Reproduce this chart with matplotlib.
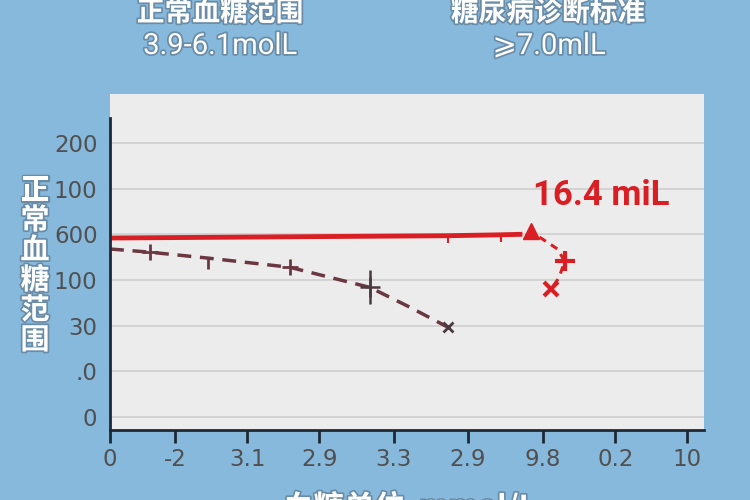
import matplotlib
matplotlib.use("Agg")
import matplotlib.pyplot as plt
import matplotlib.patheffects as pe

# axis ticks as they appear in the picture
x_ticks = [0, 0.9, 1.9, 2.9, 3.93, 4.96, 6.0, 7.0, 8.0]
x_labels = ["0", "-2", "3.1", "2.9", "3.3", "2.9", "9.8", "0.2", "10"]
y_ticks = [0, 1, 2, 3, 4, 5, 6]
y_labels = ["0", ".0", "30", "100", "600", "100", "200"]

# red solid series and its dashed tail
red_x = [0, 4.68, 5.42, 5.68]
red_y = [3.92, 3.97, 3.99, 4.0]
arrow_x = [5.83]
arrow_y = [4.07]
tail_x = [5.95, 6.2, 6.3, 6.22, 6.11]
tail_y = [3.94, 3.68, 3.41, 3.05, 2.80]

# dark dashed series
dark_x = [0, 0.55, 1.36, 2.49, 3.6, 4.15, 4.68]
dark_y = [3.68, 3.61, 3.48, 3.28, 2.84, 2.41, 1.97]

bg = "#86b9dc"
red = "#d91f24"
dark = "#6b3841"
txt = "#505050"
cjk = ["Noto Sans CJK SC", "DejaVu Sans"]
outline = [pe.withStroke(linewidth=2.5, foreground="#6a8ca6")]

fig = plt.figure(figsize=(7.5, 5), dpi=100, facecolor=bg)
ax = fig.add_axes([110 / 750, 1 - 430 / 500, 594 / 750, 336 / 500])
ax.set_facecolor("#ececec")
ax.set_xlim(0, 8.23)
ax.set_ylim(-0.28, 7.07)

for s in ["top", "right"]:
    ax.spines[s].set_visible(False)
ax.spines["left"].set_bounds(-0.28, 6.54)
ax.spines["left"].set_color("#1e2935")
ax.spines["bottom"].set_color("#1e2935")
ax.spines["left"].set_linewidth(2)
ax.spines["bottom"].set_linewidth(2)

ax.set_yticks(y_ticks)
ax.set_yticklabels(y_labels)
ax.set_yticks([y_ticks[1], y_ticks[3], y_ticks[5]], minor=True)
ax.tick_params(axis="y", which="major", length=0, pad=9, labelsize=16.5, labelcolor=txt)
ax.tick_params(axis="y", which="minor", length=6, width=2, color="#1e2935")
ax.set_xticks(x_ticks)
ax.set_xticklabels(x_labels)
ax.tick_params(axis="x", length=9, width=2, color="#1e2935", pad=4, labelsize=16.5, labelcolor=txt)
ax.grid(axis="y", color="#cfcfcf", lw=1.2)
ax.set_axisbelow(True)

# dark dashed curve
ax.plot(dark_x, dark_y, color=dark, lw=2.5, dashes=(4, 2.5))
ax.plot(dark_x[1], dark_y[1], marker="+", ms=12, mew=2, color=dark)
ax.plot(dark_x[2], dark_y[2], marker=3, ms=8, mew=2, color=dark)
ax.plot(dark_x[3], dark_y[3], marker="+", ms=12, mew=2, color=dark)
ax.plot(dark_x[4], dark_y[4], marker="+", ms=14, mew=1.8, color="#4a3a3e")
ax.plot(dark_x[4], dark_y[4], marker="|", ms=24, mew=1.8, color="#4a3a3e")
ax.plot(dark_x[6], dark_y[6], marker="x", ms=7, mew=2, color="#4a3a3e")

# red line
ax.plot(red_x, red_y, color=red, lw=3.5, marker=3, ms=5, mew=1.5, markevery=[1, 2])
ax.plot(arrow_x, arrow_y, marker="^", ms=12, color=red, ls="none")
ax.plot(tail_x, tail_y, color=red, lw=2.2, dashes=(2.5, 2))
ax.plot(tail_x[2], tail_y[2], marker="+", ms=15, mew=3, color=red)
ax.plot(tail_x[4], tail_y[4], marker="x", ms=10, mew=3, color=red)
ax.text(5.86, 4.84, "16.4 miL", color=red, fontsize=25, fontweight="bold",
        family=["Roboto", "DejaVu Sans"], ha="left", va="center")

# titles on the blue background
fig.text(220 / 750, 1 - 13 / 500, "正常血糖范围", color="white", fontsize=20, fontweight="bold",
         family=cjk, ha="center", va="center", path_effects=outline)
fig.text(220 / 750, 1 - 46 / 500, "3.9-6.1molL", color="white", fontsize=21,
         family=["Roboto", "DejaVu Sans"], ha="center", va="center", path_effects=outline)
fig.text(548 / 750, 1 - 13 / 500, "糖尿病诊断标准", color="white", fontsize=20, fontweight="bold",
         family=cjk, ha="center", va="center", path_effects=outline)
fig.text(549 / 750, 1 - 46 / 500, "⩾7.0mlL", color="white", fontsize=21,
         family=["Roboto", "DejaVu Sans"], ha="center", va="center", path_effects=outline)

# axis titles
fig.text(35 / 750, 1 - 265 / 500, "\n".join("正常血糖范围"), color="white", fontsize=21,
         fontweight="bold", family=cjk, ha="center", va="center", linespacing=1.0,
         path_effects=outline)
fig.text(283 / 750, 1 - 508 / 500, "血糖单位  mmol/L", color="white", fontsize=22,
         fontweight="bold", family=cjk, ha="left", va="center", path_effects=outline)

fig.savefig("out.png", dpi=100, facecolor=bg)
